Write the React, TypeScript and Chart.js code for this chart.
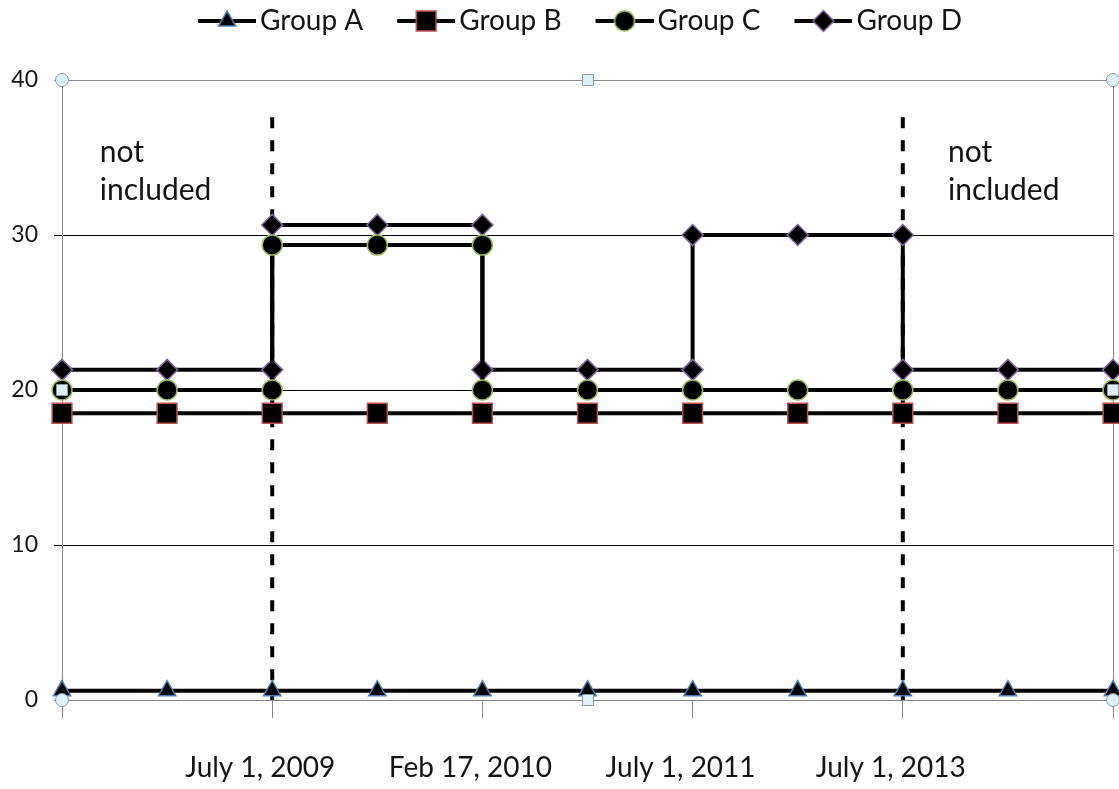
import React, { useEffect, useRef } from 'react';
import { Chart, registerables } from 'chart.js';

Chart.register(...registerables);

// ---------------- data ----------------
const seriesNames = ['Group A', 'Group B', 'Group C', 'Group D'];

const xTickLabels = ['', '', 'July 1, 2009', '', 'Feb 17, 2010', '', 'July 1, 2011', '', 'July 1, 2013', '', ''];

const groupAX = [0, 1, 2, 3, 4, 5, 6, 7, 8, 9, 10];
const groupAY = [0.6, 0.6, 0.6, 0.6, 0.6, 0.6, 0.6, 0.6, 0.6, 0.6, 0.6];

const groupBX = [0, 1, 2, 3, 4, 5, 6, 7, 8, 9, 10];
const groupBY = [18.5, 18.5, 18.5, 18.5, 18.5, 18.5, 18.5, 18.5, 18.5, 18.5, 18.5];

const groupCX = [0, 1, 2, 2, 3, 4, 4, 5, 6, 7, 8, 9, 10];
const groupCY = [20, 20, 20, 29.35, 29.35, 29.35, 20, 20, 20, 20, 20, 20, 20];

const groupDX = [0, 1, 2, 2, 3, 4, 4, 5, 6, 6, 7, 8, 8, 9, 10];
const groupDY = [21.3, 21.3, 21.3, 30.65, 30.65, 30.65, 21.3, 21.3, 21.3, 30, 30, 30, 21.3, 21.3, 21.3];

const dividerX = [2, 8];
const dividerYRange = [37.6, 0];

const noteLines = ['not', 'included'];
const noteX = [0.36, 8.43];
const noteY = 34.7;

const Y_MIN = 0;
const Y_MAX = 40;
const Y_STEP = 10;
const X_MIN = 0;
const X_MAX = 10;

// ---------------- styles ----------------
const FONT = 'Lato';
const TEXT = '#141414';
const AXIS_GRAY = '#878787';
const MARKER_STYLES = ['triangle', 'rect', 'circle', 'rectRot'];
const MARKER_RADII = [10, 14, 10, 10.5];
const MARKER_BORDERS = ['#4a7ebb', '#c0504d', '#9bbb59', '#8064a2'];
const LEG_BOX = 75;
const LEGEND_SHIFT = 10;

function toPoints(xs: number[], ys: number[]) {
  return xs.map((x, i) => ({ x, y: ys[i] }));
}

function drawMarker(ctx: CanvasRenderingContext2D, style: string, x: number, y: number, r: number, stroke: string) {
  ctx.beginPath();
  if (style === 'triangle') {
    ctx.moveTo(x, y - r);
    ctx.lineTo(x + r * Math.sin((2 * Math.PI) / 3), y - r * Math.cos((2 * Math.PI) / 3));
    ctx.lineTo(x - r * Math.sin((2 * Math.PI) / 3), y - r * Math.cos((2 * Math.PI) / 3));
    ctx.closePath();
  } else if (style === 'rect') {
    const s = r * Math.SQRT1_2;
    ctx.rect(x - s, y - s, 2 * s, 2 * s);
  } else if (style === 'circle') {
    ctx.arc(x, y, r, 0, Math.PI * 2);
  } else {
    ctx.moveTo(x - r, y);
    ctx.lineTo(x, y - r);
    ctx.lineTo(x + r, y);
    ctx.lineTo(x, y + r);
    ctx.closePath();
  }
  ctx.fillStyle = '#000';
  ctx.fill();
  ctx.lineWidth = 1.5;
  ctx.strokeStyle = stroke;
  ctx.stroke();
}

function makeLegendIcon(i: number) {
  const c = document.createElement('canvas');
  const W = LEG_BOX + 20;
  const H = 28;
  c.width = W;
  c.height = H;
  const ctx = c.getContext('2d')!;
  const symW = 58;
  ctx.strokeStyle = '#000';
  ctx.lineWidth = 4;
  ctx.beginPath();
  ctx.moveTo(W - symW, H / 2);
  ctx.lineTo(W, H / 2);
  ctx.stroke();
  drawMarker(ctx, MARKER_STYLES[i], W - symW / 2, H / 2, MARKER_RADII[i], MARKER_BORDERS[i]);
  return c;
}

export default function App() {
  const canvasRef = useRef<HTMLCanvasElement | null>(null);

  useEffect(() => {
    document.body.style.margin = '0';
    const canvas = canvasRef.current;
    if (!canvas) return;

    const legendIcons = [0, 1, 2, 3].map(makeLegendIcon);
    const seriesX = [groupAX, groupBX, groupCX, groupDX];
    const seriesY = [groupAY, groupBY, groupCY, groupDY];

    const mainSets = seriesNames.map((name, i) => ({
      label: name,
      data: toPoints(seriesX[i], seriesY[i]),
      borderColor: '#000',
      backgroundColor: '#000',
      borderWidth: 4,
      pointStyle: MARKER_STYLES[i] as any,
      pointRadius: MARKER_RADII[i],
      pointBackgroundColor: '#000',
      pointBorderColor: MARKER_BORDERS[i],
      pointBorderWidth: 1.5,
      tension: 0,
      clip: false as any,
    }));

    const dividerSets = dividerX.map((dx) => ({
      label: '',
      data: dividerYRange.map((y) => ({ x: dx, y })),
      borderColor: '#000',
      borderWidth: 4,
      borderDash: [11, 12],
      pointRadius: 0,
      tension: 0,
    }));

    const notesPlugin = {
      id: 'notes',
      afterDatasetsDraw(chart: any) {
        const { ctx } = chart;
        const xs = chart.scales.x;
        const ys = chart.scales.y;
        ctx.save();
        ctx.font = `30px ${FONT}`;
        ctx.fillStyle = TEXT;
        ctx.textAlign = 'left';
        ctx.textBaseline = 'alphabetic';
        noteX.forEach((nx) => {
          const px = xs.getPixelForValue(nx);
          const py = ys.getPixelForValue(noteY);
          noteLines.forEach((line, li) => ctx.fillText(line, px, py + li * 38));
        });
        ctx.restore();
      },
    };

    const handlesPlugin = {
      id: 'handles',
      afterDraw(chart: any) {
        const { ctx, chartArea } = chart;
        const { left, right, top, bottom } = chartArea;
        const mx = (left + right) / 2;
        const my = (top + bottom) / 2;
        ctx.save();
        ctx.fillStyle = '#dcf0f6';
        ctx.strokeStyle = '#8a9aa3';
        ctx.lineWidth = 1;
        [[left, top], [right, top], [left, bottom], [right, bottom]].forEach(([x, y]) => {
          ctx.beginPath();
          ctx.arc(x, y, 6.5, 0, Math.PI * 2);
          ctx.fill();
          ctx.stroke();
        });
        [[mx, top], [mx, bottom], [left, my], [right, my]].forEach(([x, y]) => {
          ctx.beginPath();
          ctx.rect(Math.round(x) - 5.5, Math.round(y) - 5.5, 11, 11);
          ctx.fill();
          ctx.stroke();
        });
        ctx.restore();
      },
    };

    const legendTweak = {
      id: 'legendTweak',
      beforeInit(chart: any) {
        const lg = chart.legend;
        if (!lg) return;
        const origFit = lg.fit;
        lg.fit = function () {
          origFit.call(this);
          this.height = 80;
        };
        const origDraw = lg.draw;
        lg.draw = function (...args: any[]) {
          const c = this.ctx;
          c.save();
          c.translate(LEGEND_SHIFT, 0);
          origDraw.apply(this, args);
          c.restore();
        };
      },
    };

    const chart = new Chart(canvas, {
      type: 'line',
      data: { datasets: [...mainSets, ...dividerSets] as any },
      options: {
        animation: false,
        responsive: false,
        maintainAspectRatio: false,
        layout: { autoPadding: false, padding: { left: 0, right: 6, top: 0, bottom: 0 } },
        plugins: {
          tooltip: { enabled: false },
          legend: {
            display: true,
            position: 'top',
            labels: {
              usePointStyle: true,
              pointStyleWidth: LEG_BOX,
              padding: 7,
              color: TEXT,
              font: { family: FONT, size: 28 },
              generateLabels: (ch: any) =>
                (Chart.defaults.plugins.legend.labels.generateLabels as any)(ch)
                  .filter((l: any) => l.datasetIndex < 4)
                  .map((l: any) => ({ ...l, pointStyle: legendIcons[l.datasetIndex], fontColor: TEXT, lineWidth: 0 })),
            },
          },
        },
        scales: {
          x: {
            type: 'linear',
            min: X_MIN,
            max: X_MAX,
            afterFit: (s: any) => {
              s.height = 89;
              s.paddingLeft = 0;
              s.paddingRight = 0;
            },
            border: { color: AXIS_GRAY, width: 1 },
            grid: {
              drawOnChartArea: true,
              color: (c: any) => (c.tick && c.tick.value === X_MAX ? AXIS_GRAY : 'rgba(0,0,0,0)'),
              tickColor: (c: any) => (c.tick && c.tick.value % 2 === 0 ? AXIS_GRAY : 'rgba(0,0,0,0)'),
              tickLength: 18,
              lineWidth: 1,
            },
            ticks: {
              stepSize: 1,
              autoSkip: false,
              maxRotation: 0,
              minRotation: 0,
              padding: 33,
              labelOffset: -12,
              color: TEXT,
              font: { family: FONT, size: 28 },
              callback: (v: any) => xTickLabels[Math.round(Number(v))] ?? '',
            },
          },
          y: {
            type: 'linear',
            min: Y_MIN,
            max: Y_MAX,
            afterFit: (s: any) => {
              s.width = 62;
            },
            border: { color: AXIS_GRAY, width: 1 },
            grid: {
              color: (c: any) => (c.tick && (c.tick.value === Y_MIN || c.tick.value === Y_MAX) ? AXIS_GRAY : '#000'),
              tickColor: (c: any) => (c.tick && (c.tick.value === Y_MIN || c.tick.value === Y_MAX) ? AXIS_GRAY : '#000'),
              tickLength: 8,
              lineWidth: 1,
            },
            ticks: {
              stepSize: Y_STEP,
              padding: 16,
              color: TEXT,
              font: { family: FONT, size: 23 },
            },
          },
        },
      },
      plugins: [legendTweak, notesPlugin, handlesPlugin],
    });

    return () => chart.destroy();
  }, []);

  return (
    <div style={{ width: 1119, height: 789, position: 'relative', background: '#fff' }}>
      <canvas ref={canvasRef} width={1119} height={789} style={{ display: 'block' }} />
    </div>
  );
}
